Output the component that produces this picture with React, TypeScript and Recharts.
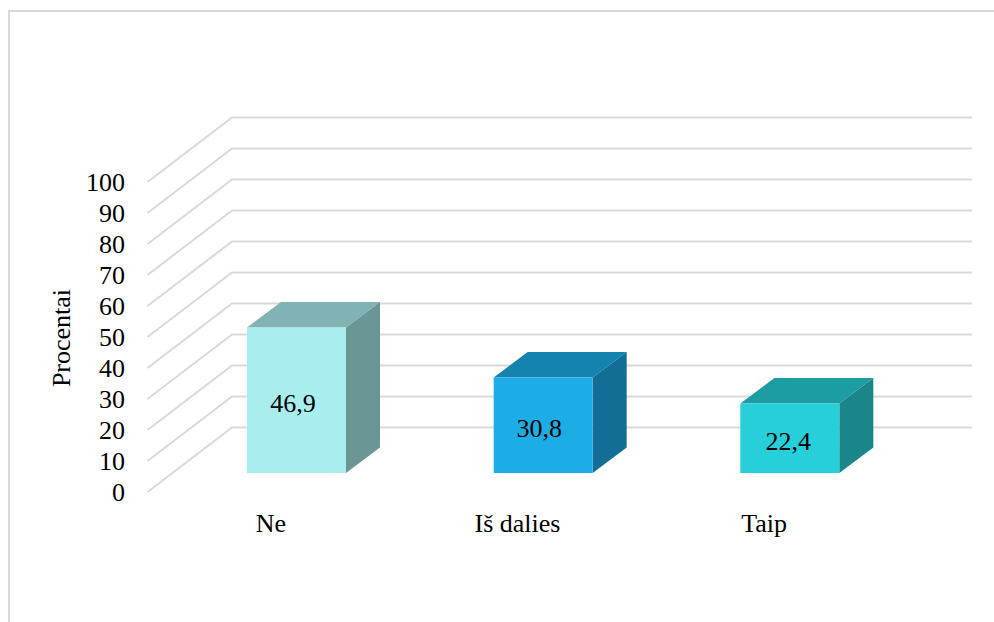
import React from 'react';
import { BarChart, Bar, XAxis, YAxis, CartesianGrid, LabelList } from 'recharts';

const categories = ['Ne', 'Iš dalies', 'Taip'];
const percentages = [46.9, 30.8, 22.4];
const yTicks = [0, 10, 20, 30, 40, 50, 60, 70, 80, 90, 100];

const chartData = categories.map((name, i) => ({ name, value: percentages[i] }));

// [front, top, side] of each box
const boxColors = [
    ['#A9EEEE', '#81B3B5', '#6B9696'],
    ['#1CADE6', '#1583B0', '#126E94'],
    ['#26CFD9', '#1D9DA3', '#1A8689'],
];
const labelNudge = [-3.5, -4, -1.5];

const FONT = '"Liberation Serif", "Times New Roman", serif';
const FONT_SIZE = 26;

// fake 3D offsets, the bars stand between the front edge and the back wall
const DEPTH_X = 34;
const DEPTH_Y = 25.5;
const FRONT_X = -25.5;
const FRONT_Y = 19;
const BACK_X = 59;
const BACK_Y = -45.5;

const Box3D = (props: any) => {
    const { x, y, width, height, index } = props;
    const [front, top, side] = boxColors[index];
    const right = x + width;
    const bottom = y + height;
    return (
        <g>
            <polygon fill={top} points={`${x},${y} ${x + DEPTH_X},${y - DEPTH_Y} ${right + DEPTH_X},${y - DEPTH_Y} ${right},${y}`} />
            <polygon fill={side} points={`${right},${y} ${right + DEPTH_X},${y - DEPTH_Y} ${right + DEPTH_X},${bottom - DEPTH_Y} ${right},${bottom}`} />
            <rect x={x} y={y} width={width} height={height} fill={front} />
        </g>
    );
};

const FloorGridLine = (props: any) => {
    const { x1, x2, y1 } = props;
    const points = `${x1 + FRONT_X},${y1 + FRONT_Y} ${x1 + BACK_X},${y1 + BACK_Y} ${x2 + BACK_X},${y1 + BACK_Y}`;
    return <polyline points={points} fill="none" stroke="#D9D9D9" strokeWidth={2} />;
};

const YTick = (props: any) => (
    <text x={125} y={props.y + FRONT_Y} textAnchor="end" dominantBaseline="central" fontFamily={FONT} fontSize={FONT_SIZE} fill="#000">
        {props.payload.value}
    </text>
);

const XTick = (props: any) => (
    <text x={props.x + FRONT_X} y={523} textAnchor="middle" dominantBaseline="central" fontFamily={FONT} fontSize={FONT_SIZE} fill="#000">
        {props.payload.value}
    </text>
);

const BarValue = (props: any) => {
    const { x, y, width, height, value, index } = props;
    return (
        <text x={x + width / 2 + labelNudge[index]} y={y + height / 2 + 3.5} textAnchor="middle" dominantBaseline="central" fontFamily={FONT} fontSize={FONT_SIZE} fill="#000">
            {String(value).replace('.', ',')}
        </text>
    );
};

export default function App() {
    return (
        <div style={{ position: 'absolute', left: 0, top: 0, width: 994, height: 622, background: '#fff', overflow: 'hidden' }}>
            <div style={{ position: 'absolute', left: 8, top: 10, right: 0, bottom: 0, borderLeft: '2px solid #D9D9D9', borderTop: '2px solid #D9D9D9' }} />
            <div style={{ position: 'absolute', left: 0, top: 0 }}>
                <BarChart width={994} height={622} data={chartData} margin={{ top: 163, right: 81, bottom: 89, left: 0 }}>
                    <CartesianGrid vertical={false} horizontal={FloorGridLine} />
                    <XAxis dataKey="name" height={60} axisLine={false} tickLine={false} tick={XTick} interval={0} />
                    <YAxis
                        width={173}
                        domain={[0, 100]}
                        ticks={yTicks}
                        interval={0}
                        axisLine={false}
                        tickLine={false}
                        tick={YTick}
                        label={{ value: 'Procentai', angle: -90, position: 'insideLeft', dx: 56, dy: 20, style: { fontFamily: FONT, fontSize: FONT_SIZE, fill: '#000', textAnchor: 'middle' } }}
                    />
                    <Bar dataKey="value" barSize={99} shape={Box3D} isAnimationActive={false}>
                        <LabelList dataKey="value" content={BarValue} />
                    </Bar>
                </BarChart>
            </div>
        </div>
    );
}
